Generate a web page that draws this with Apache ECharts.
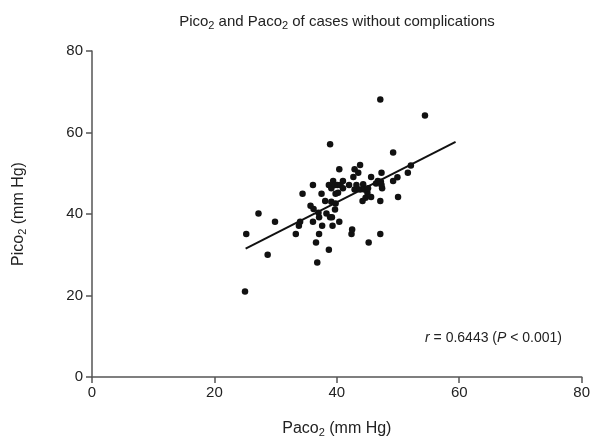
<!DOCTYPE html>
<html>
<head>
<meta charset="utf-8">
<script src="https://cdn.jsdelivr.net/npm/echarts@6/dist/echarts.min.js"></script>
<style>
  html, body { margin: 0; padding: 0; background: #fff; }
  #main { width: 593px; height: 445px; }
</style>
</head>
<body>
<div id="main"></div>
<script>
// Paco2 (x) vs Pico2 (y)
var paco2 = [25.0, 25.2, 27.2, 28.7, 29.9, 33.3, 33.8, 34.0, 34.4, 35.7,
    36.1, 36.2, 36.1, 36.6, 36.8, 37.0, 37.1, 37.1, 37.5, 37.6,
    38.1, 38.3, 38.7, 38.9, 38.9, 39.2, 39.1, 39.3, 39.7, 39.8,
    40.4, 38.7, 39.1, 39.4, 39.7, 39.8, 40.2, 40.1, 40.6, 41.0,
    41.0, 40.4, 42.0, 42.7, 42.9, 43.5, 43.8, 42.9, 43.2, 43.8,
    42.4, 42.5, 44.2, 44.7, 45.6, 45.0, 44.3, 44.5, 45.1, 45.2,
    45.6, 46.4, 46.7, 47.2, 47.4, 47.3, 47.1, 47.1, 47.1, 47.3,
    49.2, 49.2, 49.9, 50.0, 51.6, 52.1, 54.4];
var pico2 = [21.0, 35.1, 40.1, 30.0, 38.1, 35.1, 37.1, 38.1, 45.0, 42.0,
    47.1, 41.2, 38.1, 33.0, 28.1, 40.3, 39.2, 35.1, 45.0, 37.1,
    43.2, 40.1, 31.2, 57.1, 39.2, 39.2, 43.0, 37.1, 41.1, 42.6,
    38.1, 47.1, 46.3, 48.1, 47.1, 45.0, 45.2, 47.1, 47.1, 46.3,
    48.1, 51.0, 47.1, 49.1, 51.0, 50.1, 52.0, 46.0, 47.1, 46.0,
    35.1, 36.2, 43.2, 44.0, 44.2, 45.2, 47.3, 46.0, 46.3, 33.0,
    49.1, 47.5, 48.1, 47.9, 46.3, 47.1, 43.2, 35.1, 68.1, 50.1,
    48.1, 55.1, 49.0, 44.2, 50.1, 51.9, 64.2];
// regression line end points
var fitX = [25.1, 59.4];
var fitY = [31.5, 57.7];

var pts = paco2.map(function (x, i) { return [x, pico2[i]]; });
var fit = fitX.map(function (x, i) { return [x, fitY[i]]; });

var FONT = 'Liberation Sans';
var axisCol = '#555';
var txtCol = '#222';
var sub = { fontFamily: FONT, fontSize: 11, color: txtCol, padding: [8, 0, 0, 0] };

var myChart = echarts.init(document.getElementById('main'));

var option = {
    animation: false,
    backgroundColor: '#fff',
    textStyle: { fontFamily: FONT },
    grid: { left: 92, right: 11, top: 51, bottom: 68, containLabel: false },
    xAxis: {
        type: 'value', min: 0, max: 80, interval: 20,
        name: 'Paco{s|2} (mm Hg)',
        nameLocation: 'middle', nameGap: 42,
        nameTextStyle: { fontFamily: FONT, fontSize: 16, color: txtCol, rich: { s: sub } },
        axisLine: { lineStyle: { color: axisCol, width: 1.5 } },
        axisTick: { show: true, inside: false, length: 6, lineStyle: { color: axisCol, width: 1.5 } },
        axisLabel: { fontFamily: FONT, fontSize: 15, color: txtCol, margin: 8 },
        splitLine: { show: false }
    },
    yAxis: {
        type: 'value', min: 0, max: 80, interval: 20,
        name: 'Pico{s|2} (mm Hg)',
        nameLocation: 'middle', nameGap: 64, nameRotate: 90,
        nameTextStyle: { fontFamily: FONT, fontSize: 16, color: txtCol, rich: { s: sub } },
        axisLine: { show: true, lineStyle: { color: axisCol, width: 1.5 } },
        axisTick: { show: true, inside: false, length: 6, lineStyle: { color: axisCol, width: 1.5 } },
        axisLabel: { fontFamily: FONT, fontSize: 15, color: txtCol, margin: 9 },
        splitLine: { show: false }
    },
    graphic: [{
        type: 'text',
        x: 337, y: 12,
        style: {
            text: 'Pico{s|2} and Paco{s|2} of cases without complications',
            font: '15px ' + FONT,
            fill: txtCol,
            align: 'center',
            rich: { s: sub }
        }
    }, {
        type: 'text',
        right: 31,
        top: 331,
        style: {
            text: '{i|r} = 0.6443 ({i|P} < 0.001)',
            font: '14px ' + FONT,
            fill: txtCol,
            rich: { i: { fontFamily: FONT, fontSize: 14, fontStyle: 'italic', color: txtCol } }
        }
    }],
    series: [{
        type: 'scatter',
        data: pts,
        symbol: 'circle',
        symbolSize: 6.5,
        itemStyle: { color: '#111', opacity: 1 },
        z: 3
    }, {
        type: 'line',
        data: fit,
        showSymbol: false,
        symbol: 'none',
        lineStyle: { color: '#111', width: 2 },
        z: 2
    }]
};

myChart.setOption(option);
</script>
</body>
</html>
